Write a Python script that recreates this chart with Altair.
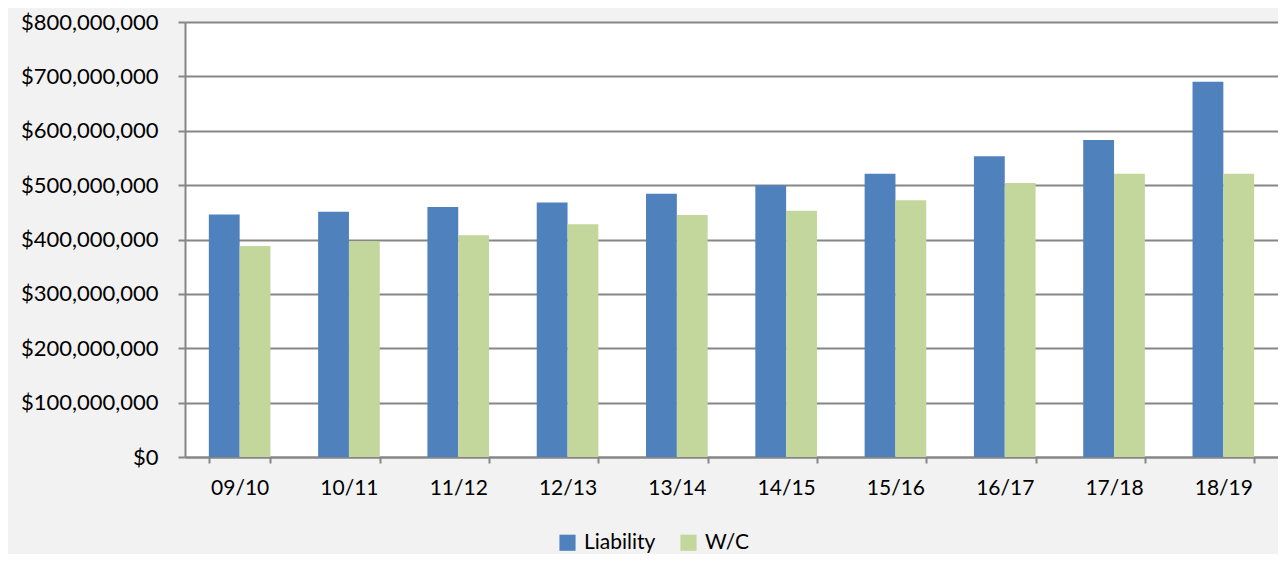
import altair as alt
import pandas as pd

categories = ["09/10", "10/11", "11/12", "12/13", "13/14", "14/15", "15/16", "16/17", "17/18", "18/19"]
liability = [446e6, 451e6, 460e6, 468e6, 484e6, 500e6, 521e6, 553e6, 583e6, 690e6]
wc = [388e6, 397e6, 408e6, 428e6, 445e6, 453e6, 472e6, 504e6, 521e6, 521e6]
series = ["Liability", "W/C"]
colors = ["#4F81BD", "#C3D69B"]
y_ticks = [i * 100e6 for i in range(9)]

rows = []
for c, l, w in zip(categories, liability, wc):
    rows.append({"cat": c, "series": series[0], "value": l})
    rows.append({"cat": c, "series": series[1], "value": w})
df = pd.DataFrame(rows)

FONT = "Lato"

chart = alt.Chart(df).mark_bar().encode(
    x=alt.X("cat:N", sort=categories, title=None,
            scale=alt.Scale(paddingInner=0.436, paddingOuter=0.218),
            axis=alt.Axis(labelAngle=0, tickBand="extent", tickSize=6, tickWidth=2,
                          tickColor="#868686", domainColor="#868686", domainWidth=2,
                          labelFontSize=21, labelFont=FONT, labelColor="#000000",
                          labelPadding=14, grid=False)),
    xOffset=alt.XOffset("series:N", sort=series),
    y=alt.Y("value:Q", title=None,
            scale=alt.Scale(domain=[0, 800e6], nice=False),
            axis=alt.Axis(values=y_ticks, format="$,.0f", tickSize=7, tickWidth=2,
                          tickColor="#868686", domainColor="#868686", domainWidth=2,
                          gridColor="#868686", gridWidth=2,
                          labelFontSize=22, labelFont=FONT, labelColor="#000000",
                          labelPadding=20)),
    color=alt.Color("series:N", sort=series,
                    scale=alt.Scale(domain=series, range=colors),
                    legend=alt.Legend(title=None, orient="none", direction="horizontal",
                                      legendX=372, legendY=510, symbolType="square",
                                      symbolSize=260, symbolStrokeWidth=0,
                                      labelFontSize=21, labelFont=FONT, labelColor="#000000",
                                      columnPadding=22, labelOffset=6)),
).properties(
    width=1093, height=435,
    autosize=alt.AutoSizeParams(type="none"),
    padding={"left": 177, "top": 14, "right": 0, "bottom": 97},
    background="#F2F2F2",
).configure_view(fill="#FFFFFF", stroke=None)

chart.save("out.html", embed_options={"renderer": "svg", "actions": False})
